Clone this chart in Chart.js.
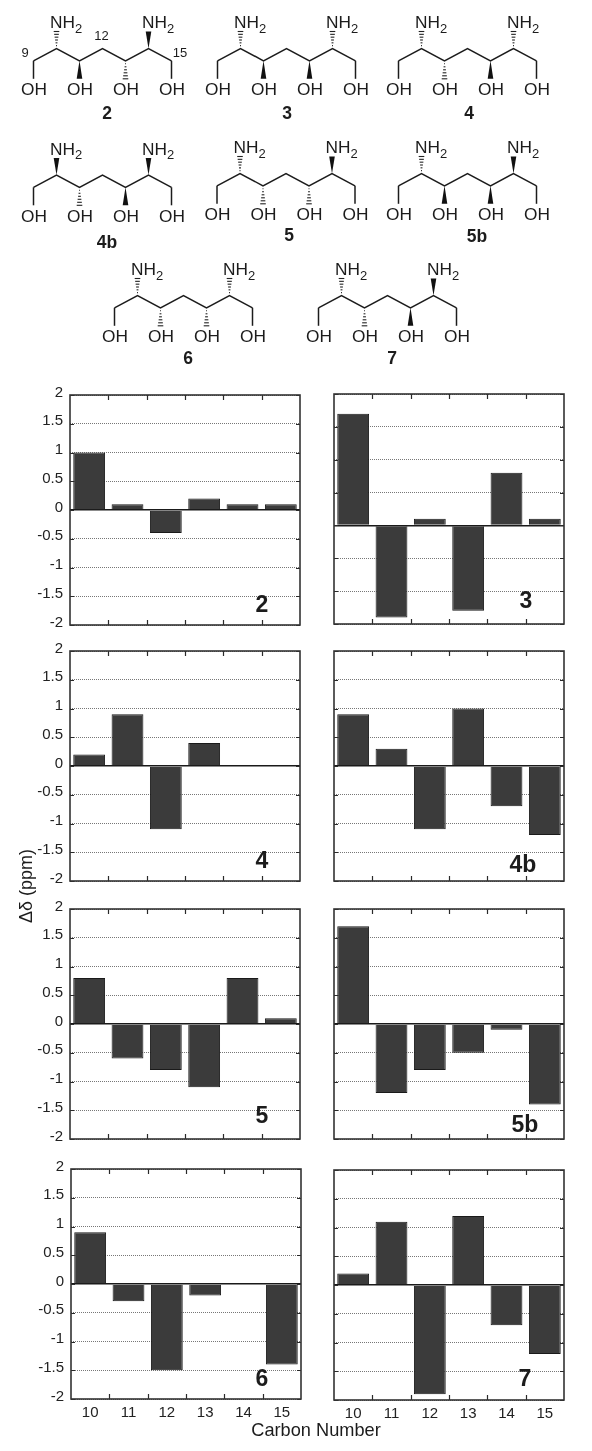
<!DOCTYPE html>
<html>
<head>
<meta charset="utf-8">
<title>Carbon shifts</title>
<script src="https://cdn.jsdelivr.net/npm/chart.js@4"></script>
<style>
html, body { margin: 0; padding: 0; background: #fff; }
#page { position: relative; width: 592px; height: 1451px; overflow: hidden; }
#page canvas { position: absolute; }
#overlay { position: absolute; left: 0; top: 0; }
#overlay text { font-family: "Liberation Sans", Arial, sans-serif; fill: #1c1c1c; }
</style>
</head>
<body>
<div id="page"></div>
<script>
// Sample data
const carbons = ['10', '11', '12', '13', '14', '15'];
const yTickValues = [2, 1.5, 1, 0.5, 0, -0.5, -1, -1.5, -2];

const values2 = [1, 0.1, -0.4, 0.2, 0.1, 0.1];
const values3 = [1.7, -1.4, 0.1, -1.3, 0.8, 0.1];
const values4 = [0.2, 0.9, -1.1, 0.4, 0, 0];
const values4b = [0.9, 0.3, -1.1, 1, -0.7, -1.2];
const values5 = [0.8, -0.6, -0.8, -1.1, 0.8, 0.1];
const values5b = [1.7, -1.2, -0.8, -0.5, -0.1, -1.4];
const values6 = [0.9, -0.3, -1.5, -0.2, 0, -1.4];
const values7 = [0.2, 1.1, -1.9, 1.2, -0.7, -1.2];

// h = hashed bond, w = wedge, order is NH2 (C10), OH (C11), OH (C13), NH2 (C14)
const stereo2 = ['h', 'w', 'h', 'w'];
const stereo3 = ['h', 'w', 'w', 'h'];
const stereo4 = ['h', 'h', 'w', 'h'];
const stereo4b = ['w', 'h', 'w', 'w'];
const stereo5 = ['h', 'h', 'h', 'w'];
const stereo5b = ['h', 'w', 'w', 'w'];
const stereo6 = ['h', 'h', 'h', 'h'];
const stereo7 = ['h', 'h', 'w', 'w'];

// Layout of the bar panels
const plotW = 230, plotH = 230;
const panels = [
    { name: '2', data: values2, x: 70, y: 395, nameX: 262, nameY: 612 },
    { name: '3', data: values3, x: 334, y: 394, nameX: 526, nameY: 608, min: -1.5 },
    { name: '4', data: values4, x: 70, y: 651, nameX: 262, nameY: 868 },
    { name: '4b', data: values4b, x: 334, y: 651, nameX: 523, nameY: 872 },
    { name: '5', data: values5, x: 70, y: 909, nameX: 262, nameY: 1123 },
    { name: '5b', data: values5b, x: 334, y: 909, nameX: 525, nameY: 1132 },
    { name: '6', data: values6, x: 71, y: 1169, nameX: 262, nameY: 1386, bottom: true },
    { name: '7', data: values7, x: 334, y: 1170, nameX: 525, nameY: 1386, bottom: true }
];

// Layout of the molecule drawings: x, y are C10
const molecules = [
    { name: '2', stereo: stereo2, x: 56.5, y: 48.5, nameX: 107, nameY: 119 },
    { name: '3', stereo: stereo3, x: 240.5, y: 48.5, nameX: 287, nameY: 119 },
    { name: '4', stereo: stereo4, x: 421.5, y: 48.5, nameX: 469, nameY: 119 },
    { name: '4b', stereo: stereo4b, x: 56.5, y: 175, nameX: 107, nameY: 248 },
    { name: '5', stereo: stereo5, x: 240, y: 173.5, nameX: 289, nameY: 241 },
    { name: '5b', stereo: stereo5b, x: 421.5, y: 173.5, nameX: 477, nameY: 242 },
    { name: '6', stereo: stereo6, x: 137.5, y: 295.5, nameX: 188, nameY: 364 },
    { name: '7', stereo: stereo7, x: 341.5, y: 295.5, nameX: 392, nameY: 364 }
];

const page = document.getElementById('page');
const svgNS = 'http://www.w3.org/2000/svg';

// Frame and short inward ticks on all four sides
const frameTicks = {
    id: 'frameTicks',
    afterDatasetsDraw(chart) {
        const { ctx, chartArea: a, scales } = chart;
        ctx.save();
        ctx.strokeStyle = '#2a2a2a';
        ctx.lineWidth = 1.2;
        ctx.beginPath();
        const step = (a.right - a.left) / carbons.length;
        for (let i = 1; i < carbons.length; i++) {
            const px = Math.round(a.left + i * step) + 0.5;
            ctx.moveTo(px, a.top);
            ctx.lineTo(px, a.top + 5);
            ctx.moveTo(px, a.bottom);
            ctx.lineTo(px, a.bottom - 5);
        }
        scales.y.ticks.forEach(t => {
            const py = Math.round(scales.y.getPixelForValue(t.value)) + 0.5;
            ctx.moveTo(a.left, py);
            ctx.lineTo(a.left + 4, py);
            ctx.moveTo(a.right, py);
            ctx.lineTo(a.right - 4, py);
        });
        ctx.stroke();
        ctx.lineWidth = 1.6;
        ctx.strokeStyle = '#333';
        ctx.strokeRect(a.left, a.top, a.right - a.left, a.bottom - a.top);
        ctx.restore();
    }
};

panels.forEach(p => {
    const isLeft = p.x < 200;
    const gutter = isLeft ? 70 : 8;
    const pad = 12;
    const under = p.bottom ? 26 : 6;
    const canvas = document.createElement('canvas');
    canvas.width = gutter + plotW + 8;
    canvas.height = pad + plotH + under;
    canvas.style.left = (p.x - gutter) + 'px';
    canvas.style.top = (p.y - pad) + 'px';
    page.appendChild(canvas);

    new Chart(canvas.getContext('2d'), {
        type: 'bar',
        data: {
            labels: carbons,
            datasets: [{
                data: p.data,
                backgroundColor: '#3b3b3b',
                borderColor: '#1a1a1a',
                borderWidth: 1,
                barPercentage: 0.83,
                categoryPercentage: 1
            }]
        },
        options: {
            responsive: false,
            animation: false,
            devicePixelRatio: 1,
            layout: { padding: { top: pad, right: 8, bottom: 0, left: 0 } },
            plugins: { legend: { display: false }, tooltip: { enabled: false } },
            scales: {
                x: {
                    afterFit: axis => {
                        axis.height = under;
                        axis.paddingLeft = 0;
                        axis.paddingRight = 0;
                    },
                    grid: { display: false, drawTicks: false },
                    border: { display: false },
                    ticks: {
                        display: !!p.bottom,
                        color: '#222',
                        padding: 5,
                        maxRotation: 0,
                        font: { family: 'Liberation Sans', size: 15 }
                    }
                },
                y: {
                    min: p.min === undefined ? -2 : p.min,
                    max: 2,
                    afterFit: axis => {
                        axis.width = gutter;
                        axis.paddingTop = 0;
                        axis.paddingBottom = 0;
                    },
                    afterBuildTicks: axis => {
                        axis.ticks = yTickValues
                            .filter(v => v >= axis.min)
                            .map(v => ({ value: v }));
                    },
                    grid: {
                        drawTicks: false,
                        color: ctx => ctx.tick && ctx.tick.value === 0 ? '#1a1a1a' : '#777',
                        lineWidth: ctx => ctx.tick && ctx.tick.value === 0 ? 1.4 : 1
                    },
                    border: {
                        display: false,
                        dash: ctx => ctx.tick && ctx.tick.value === 0 ? [] : [1, 1]
                    },
                    ticks: {
                        display: isLeft,
                        color: '#222',
                        padding: 7,
                        labelOffset: -2.5,
                        font: { family: 'Liberation Sans', size: 15 },
                        callback: value => String(value)
                    }
                }
            }
        },
        plugins: [frameTicks]
    });
});

// Everything that is not a bar panel goes in one svg on top
const svg = document.createElementNS(svgNS, 'svg');
svg.setAttribute('id', 'overlay');
svg.setAttribute('width', 592);
svg.setAttribute('height', 1451);
page.appendChild(svg);

function addEl(tag, attrs, content) {
    const el = document.createElementNS(svgNS, tag);
    Object.keys(attrs).forEach(k => el.setAttribute(k, attrs[k]));
    if (content !== undefined) el.textContent = content;
    svg.appendChild(el);
    return el;
}

function addText(x, y, str, size, weight, anchor) {
    return addEl('text', {
        x: x, y: y,
        'font-size': size,
        'font-weight': weight || 'normal',
        'text-anchor': anchor || 'middle'
    }, str);
}

// Stereo bond from (x1,y1) to (x2,y2), narrow end at the first point
function stereoBond(x1, y1, x2, y2, kind) {
    const half = 2.8;
    if (kind === 'w') {
        addEl('polygon', {
            points: `${x1},${y1} ${x2 - half},${y2} ${x2 + half},${y2}`,
            fill: '#111'
        });
        return;
    }
    const n = 6;
    for (let i = 1; i <= n; i++) {
        const t = i / n;
        const py = y1 + (y2 - y1) * t;
        const w = half * t;
        addEl('line', {
            x1: x1 - w, y1: py, x2: x1 + w, y2: py,
            stroke: '#222', 'stroke-width': 1.1
        });
    }
}

function drawMolecule(m) {
    const dx = 23, dy = 12.3;
    // backbone C9 to C15
    const pts = [-1, 0, 1, 2, 3, 4, 5].map(i => [
        m.x + i * dx,
        m.y + (i % 2 === 0 ? 0 : dy)
    ]);
    const [c9, c10, c11, , c13, c14, c15] = pts;
    addEl('polyline', {
        points: pts.map(q => q.join(',')).join(' '),
        fill: 'none', stroke: '#1c1c1c', 'stroke-width': 1.5
    });
    // end CH2-OH bonds are plain lines
    [c9, c15].forEach(c => {
        addEl('line', {
            x1: c[0], y1: c[1], x2: c[0], y2: c[1] + 18,
            stroke: '#1c1c1c', 'stroke-width': 1.5
        });
    });
    stereoBond(c10[0], c10[1], c10[0], c10[1] - 17, m.stereo[0]);
    stereoBond(c11[0], c11[1], c11[0], c11[1] + 18, m.stereo[1]);
    stereoBond(c13[0], c13[1], c13[0], c13[1] + 18, m.stereo[2]);
    stereoBond(c14[0], c14[1], c14[0], c14[1] - 17, m.stereo[3]);

    [c9, c11, c13, c15].forEach(c => {
        addText(c[0] + 0.5, m.y + 46.5, 'OH', 17.3);
    });
    [c10, c14].forEach(c => {
        addText(c[0] - 6.5, m.y - 20.5, 'NH', 17.3, 'normal', 'start');
        addText(c[0] + 18.5, m.y - 16, '2', 13, 'normal', 'start');
    });
    addText(m.nameX, m.nameY, m.name, 17.5, 'bold');
}

molecules.forEach(drawMolecule);

// Carbon numbering on the first molecule
addText(25, 57, '9', 13);
addText(101.5, 40, '12', 13);
addText(180, 57, '15', 13);

panels.forEach(p => addText(p.nameX, p.nameY, p.name, 23, 'bold'));

addText(316, 1436, 'Carbon Number', 18.2);
const yTitle = addText(0, 0, 'Δδ (ppm)', 18);
yTitle.setAttribute('transform', 'translate(32,886) rotate(-90)');
</script>
</body>
</html>
